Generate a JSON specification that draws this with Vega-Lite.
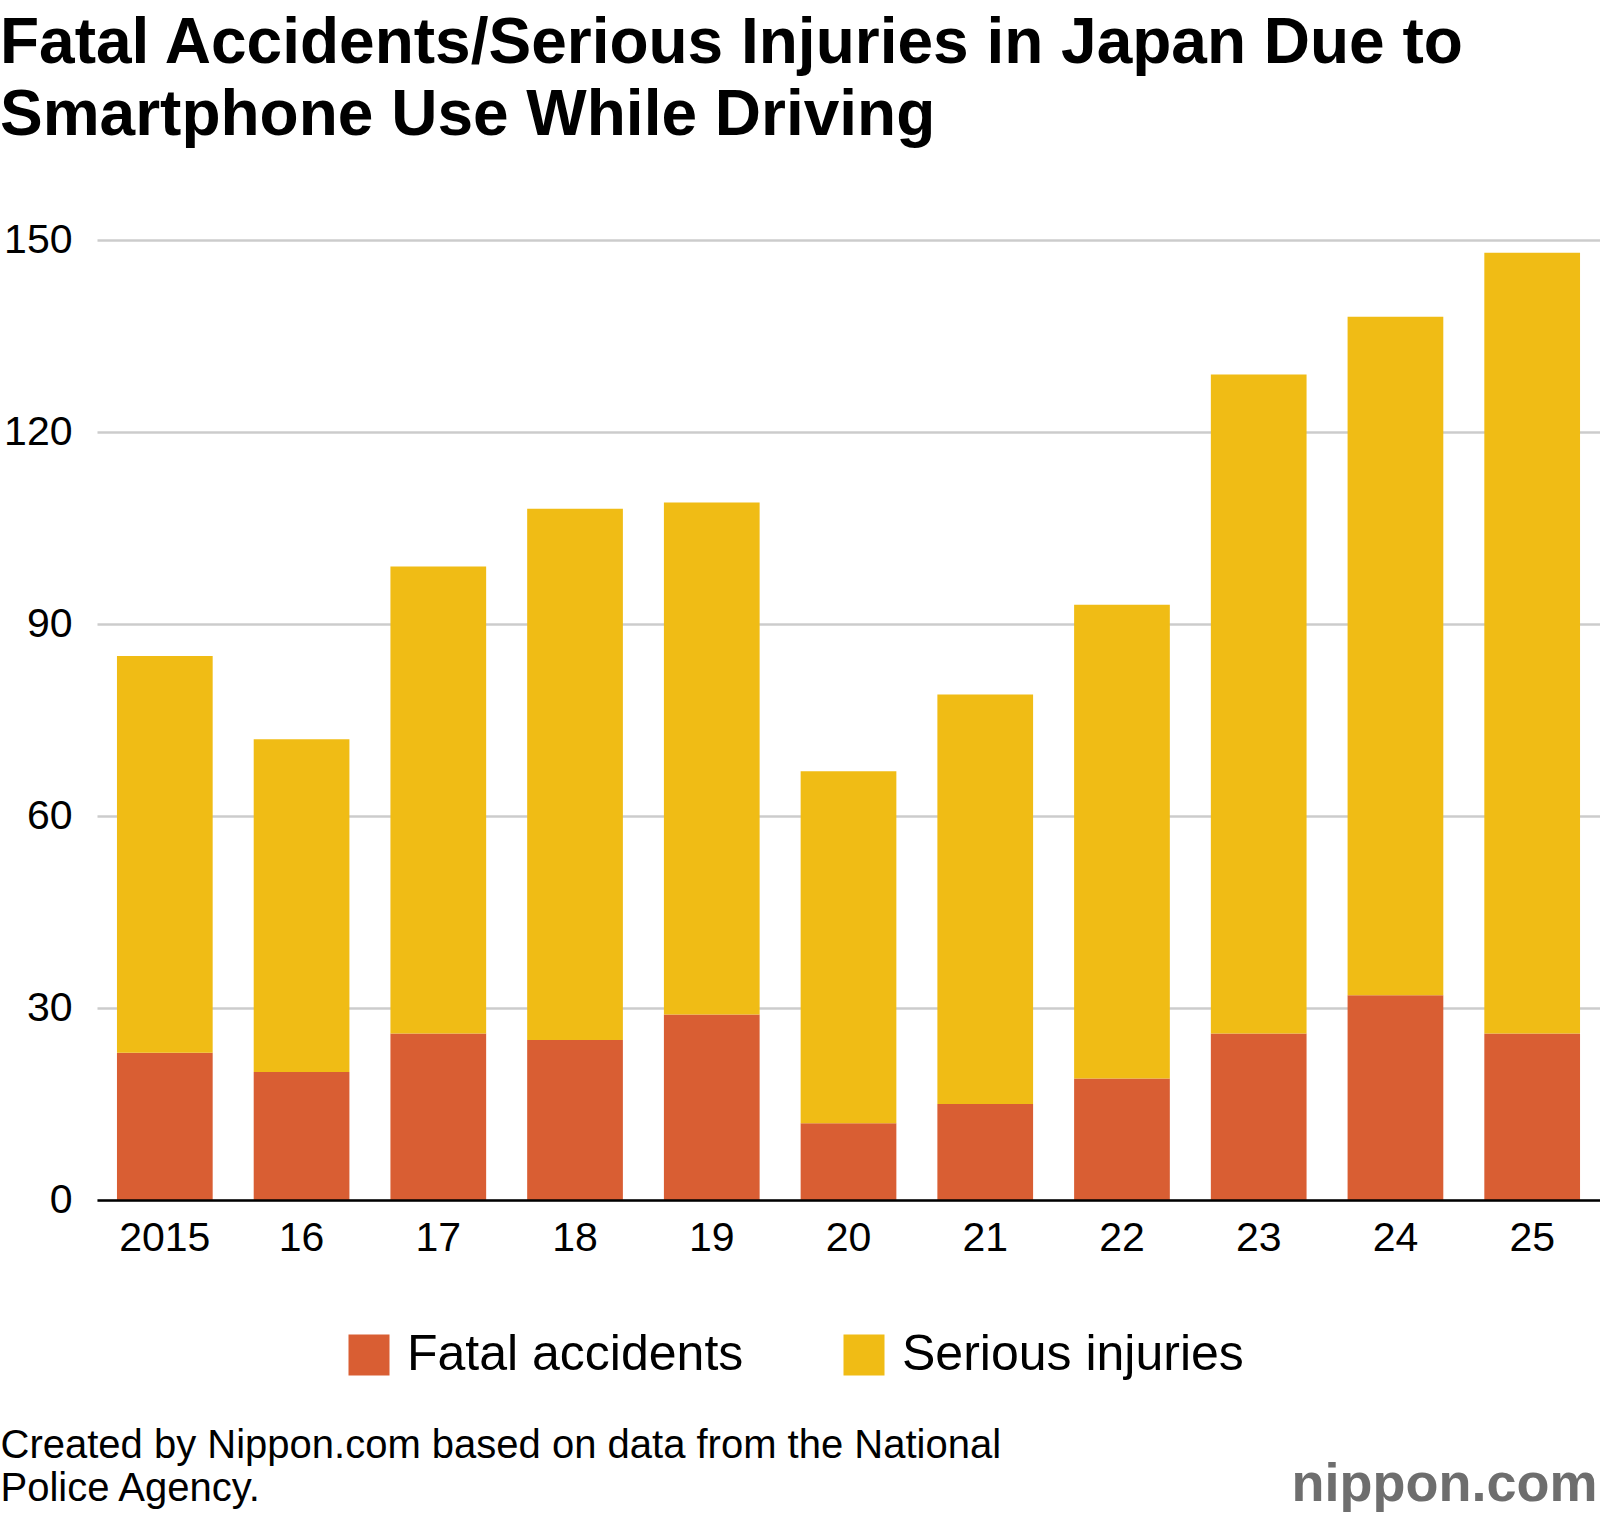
{
  "$schema": "https://vega.github.io/schema/vega-lite/v6.json",
  "width": 1503,
  "height": 960,
  "autosize": {"type": "none"},
  "padding": {"left": 97, "top": 240, "right": 0, "bottom": 314},
  "background": "white",
  "title": {
    "text": ["Fatal Accidents/Serious Injuries in Japan Due to", "Smartphone Use While Driving"],
    "anchor": "start",
    "frame": "group",
    "dx": -97,
    "offset": 71,
    "fontSize": 64,
    "fontWeight": "bold",
    "color": "#000000",
    "lineHeight": 72
  },
  "data": {
    "values": [
      {"year": "2015", "type": "Fatal accidents", "count": 23},
      {"year": "2015", "type": "Serious injuries", "count": 62},
      {"year": "16", "type": "Fatal accidents", "count": 20},
      {"year": "16", "type": "Serious injuries", "count": 52},
      {"year": "17", "type": "Fatal accidents", "count": 26},
      {"year": "17", "type": "Serious injuries", "count": 73},
      {"year": "18", "type": "Fatal accidents", "count": 25},
      {"year": "18", "type": "Serious injuries", "count": 83},
      {"year": "19", "type": "Fatal accidents", "count": 29},
      {"year": "19", "type": "Serious injuries", "count": 80},
      {"year": "20", "type": "Fatal accidents", "count": 12},
      {"year": "20", "type": "Serious injuries", "count": 55},
      {"year": "21", "type": "Fatal accidents", "count": 15},
      {"year": "21", "type": "Serious injuries", "count": 64},
      {"year": "22", "type": "Fatal accidents", "count": 19},
      {"year": "22", "type": "Serious injuries", "count": 74},
      {"year": "23", "type": "Fatal accidents", "count": 26},
      {"year": "23", "type": "Serious injuries", "count": 103},
      {"year": "24", "type": "Fatal accidents", "count": 32},
      {"year": "24", "type": "Serious injuries", "count": 106},
      {"year": "25", "type": "Fatal accidents", "count": 26},
      {"year": "25", "type": "Serious injuries", "count": 122}
    ]
  },
  "mark": {"type": "bar"},
  "encoding": {
    "x": {
      "field": "year",
      "type": "nominal",
      "sort": null,
      "scale": {"paddingInner": 0.3, "paddingOuter": 0.146},
      "axis": {
        "title": ["Created by Nippon.com based on data from the National", "Police Agency."],
        "titleX": -97,
        "titleY": 257,
        "titleAlign": "left",
        "titleBaseline": "alphabetic",
        "titleFontSize": 40,
        "titleFontWeight": "normal",
        "titleLineHeight": 43,
        "titleColor": "#000000",
        "labelAngle": 0,
        "labelFontSize": 41,
        "labelPadding": 18,
        "labelColor": "#000000",
        "ticks": false,
        "tickSize": 0,
        "domainColor": "#000000",
        "domainWidth": 2.5,
        "zindex": 1
      }
    },
    "y": {
      "field": "count",
      "type": "quantitative",
      "stack": "zero",
      "scale": {"domain": [0, 150]},
      "axis": {
        "values": [0, 30, 60, 90, 120, 150],
        "title": "nippon.com",
        "titleAngle": 0,
        "titleX": 1500,
        "titleY": 1260,
        "titleAlign": "right",
        "titleBaseline": "alphabetic",
        "titleFontSize": 54,
        "titleFontWeight": "bold",
        "titleColor": "#6e6e6e",
        "grid": true,
        "gridColor": "#cccccc",
        "gridWidth": 2.5,
        "domain": false,
        "ticks": false,
        "labelPadding": 25,
        "labelFontSize": 41,
        "labelColor": "#000000"
      }
    },
    "order": {"field": "type", "sort": "ascending"},
    "color": {
      "field": "type",
      "type": "nominal",
      "scale": {"domain": ["Fatal accidents", "Serious injuries"], "range": ["#D95E33", "#F0BC15"]},
      "legend": {
        "title": null,
        "orient": "none",
        "legendX": 247,
        "legendY": 1090,
        "direction": "horizontal",
        "symbolType": "square",
        "symbolSize": 1681,
        "symbolStrokeWidth": 0,
        "labelFontSize": 50,
        "labelOffset": 13,
        "columnPadding": 95,
        "labelLimit": 1000,
        "labelColor": "#000000",
        "padding": 0
      }
    }
  },
  "config": {
    "view": {"stroke": null},
    "font": "Liberation Sans"
  }
}
